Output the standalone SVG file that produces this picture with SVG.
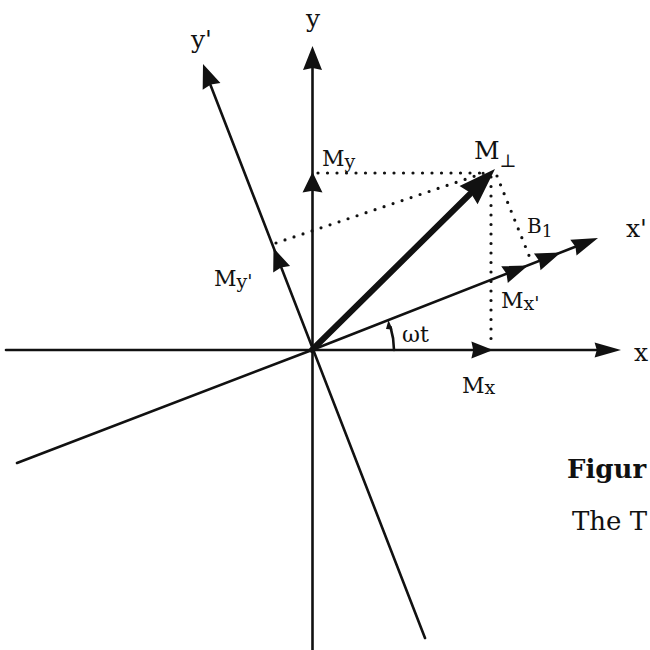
<svg xmlns="http://www.w3.org/2000/svg" xmlns:xlink="http://www.w3.org/1999/xlink" width="650" height="650" viewBox="0 0 650 650">
<style>
.ax{stroke:#111;stroke-width:2.6;fill:none;stroke-linecap:round}
.dot{stroke:#111;stroke-width:3.2;fill:none;stroke-linecap:round;stroke-dasharray:0 9.5}
.lb{font-family:"DejaVu Serif","Liberation Serif",serif;fill:#111}
.ah{fill:#111}
</style>
<defs>
<path id="ah" d="M0,0 L-24,-9.5 L-22,0 L-24,9.5 Z"/>
</defs>
<rect width="650" height="650" fill="#fff"/>
<g id="connectors">
<g id="axes">
<line class="ax" x1="6" y1="350" x2="600" y2="350"/>
<line class="ax" x1="312.5" y1="650" x2="312.5" y2="62"/>
<line class="ax" x1="425" y1="638" x2="207" y2="76"/>
<polyline class="ax" points="17,463 312,350 590,241"/>
<use href="#ah" class="ah" transform="translate(621,350) scale(1.1,0.8)"/>
<use href="#ah" class="ah" transform="translate(312.5,46) rotate(-90)"/>
<use href="#ah" class="ah" transform="translate(203,64) rotate(-110.9)"/>
<use href="#ah" class="ah" transform="translate(598,238) rotate(-21.4) scale(1.1,0.9)"/>
</g>
<g id="projections">
<line class="dot" x1="318" y1="173" x2="488" y2="173"/>
<line class="dot" x1="276" y1="243" x2="487" y2="172"/>
<line class="dot" x1="491" y1="177" x2="491" y2="344"/>
<line class="dot" x1="497" y1="176" x2="530" y2="258"/>
</g>
<g id="components">
<use href="#ah" class="ah" transform="translate(493,350) scale(0.9)"/>
<use href="#ah" class="ah" transform="translate(312.5,172) rotate(-90) scale(0.85,1.05)"/>
<use href="#ah" class="ah" transform="translate(273.5,248) rotate(-110.9) scale(0.95)"/>
<use href="#ah" class="ah" transform="translate(528,265.4) rotate(-21.4) scale(1.05,0.95)"/>
<use href="#ah" class="ah" transform="translate(560.7,252.6) rotate(-21.4) scale(1.05,0.95)"/>
</g>
<g id="mperp">
<line x1="312" y1="350" x2="470" y2="194" stroke="#111" stroke-width="6" stroke-linecap="round"/>
<use href="#ah" class="ah" transform="translate(495,169) rotate(-44.7) scale(1.55,1.35)"/>
</g>
<g id="angle">
<path class="ax" d="M394,350 A82,82 0 0 0 390.5,327" stroke-width="2.2"/>
<path class="ah" d="M388.5,320 L386,329 L392.5,329.5 Z"/>
</g>
</g>
<g id="labels">
<text class="lb" x="306" y="27" font-size="25">y</text>
<text class="lb" x="191" y="48" font-size="25">y'</text>
<text class="lb" x="634" y="361" font-size="25">x</text>
<text class="lb" x="626" y="237" font-size="25">x'</text>
<text class="lb" x="322" y="166" font-size="22">M<tspan font-size="19" dy="2">y</tspan></text>
<text class="lb" x="214" y="286" font-size="22">M<tspan font-size="19" dy="2">y'</tspan></text>
<text class="lb" x="462" y="393" font-size="22">M<tspan font-size="19" dy="1">x</tspan></text>
<text class="lb" x="501" y="308" font-size="22">M<tspan font-size="19" dy="2">x'</tspan></text>
<text class="lb" x="527" y="233" font-size="20">B<tspan font-size="17" dy="4">1</tspan></text>
<text class="lb" x="474" y="159" font-size="25">M<tspan font-size="18" dy="8">⊥</tspan></text>
<text class="lb" x="402" y="342" font-size="22">ωt</text>
<text class="lb" x="567" y="478" font-size="26" font-weight="bold">Figur</text>
<text class="lb" x="572" y="530" font-size="26">The T</text>
</g>
</svg>
